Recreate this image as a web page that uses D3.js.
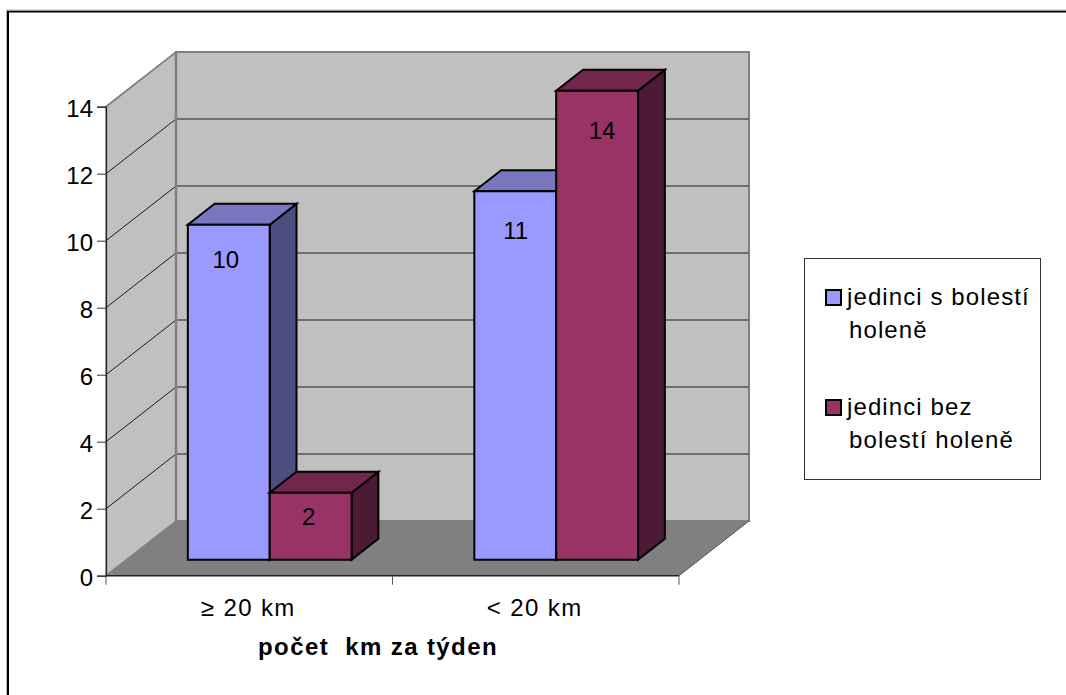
<!DOCTYPE html>
<html>
<head>
<meta charset="utf-8">
<style>
html, body { margin: 0; padding: 0; background: #fff; }
svg { display: block; font-family: "Liberation Sans", Arial, sans-serif; }
</style>
<script src="https://cdn.jsdelivr.net/npm/d3@7/dist/d3.min.js"></script>
</head>
<body>
<svg id="chart" width="1066" height="695"></svg>
<script>
const categories = ["≥ 20 km", "< 20 km"];
const seriesNames = ["jedinci s bolestí holeně", "jedinci bez bolestí holeně"];
const withPain = [10, 11];
const withoutPain = [2, 14];
const yTicks = [0, 2, 4, 6, 8, 10, 12, 14];
const axisTitle = "počet  km za týden";
const legendLines = [["jedinci s bolestí", "holeně"], ["jedinci bez", "bolestí holeně"]];
const seriesColors = ["#9999ff", "#993366"];
const topColors = ["#7777c0", "#73264d"];
const sideColors = ["#4d4d80", "#4d1a33"];

const FONT_SIZE = 24;
const svg = d3.select("#chart");

// Front plane of the plot box
const y = d3.scaleLinear().domain([0, 14]).range([575.7, 106.7]);
const x0 = d3.scaleBand().domain(categories).range([106, 679]);
const x1 = d3.scaleBand().domain([0, 1]).range([0, x0.bandwidth()]).paddingOuter(0.75).paddingInner(0);
// Oblique depth: z=0 is the front plane, z=1 the back wall
const dx = d3.scaleLinear().domain([0, 1]).range([0, 70]);
const dy = d3.scaleLinear().domain([0, 1]).range([0, -54.7]);
const px = (x, z) => x + dx(z);
const py = (v, z) => y(v) + dy(z);
const poly = pts => pts.map(p => p.join(",")).join(" ");
const P = (x, v, z) => [px(x, z), py(v, z)];

// Chart frame: only its top and left edges fall inside the page
const frame = svg.append("g");
frame.append("path").attr("d", "M8,695V11.5H1066").attr("fill", "none").attr("stroke", "#000").attr("stroke-width", 2);
frame.append("path").attr("d", "M6.5,695V10H1066").attr("fill", "none").attr("stroke", "#bbb").attr("stroke-width", 1);

const [xL, xR] = x0.range();

// Walls and floor
svg.append("polygon").attr("points", poly([P(xL, 0, 1), P(xR, 0, 1), P(xR, 14, 1), P(xL, 14, 1)]))
  .attr("fill", "#c0c0c0").attr("stroke", "#808080").attr("stroke-width", 2);
svg.append("polygon").attr("points", poly([P(xL, 0, 0), P(xL, 0, 1), P(xL, 14, 1), P(xL, 14, 0)]))
  .attr("fill", "#c0c0c0").attr("stroke", "#808080").attr("stroke-width", 1.5);
svg.append("polygon").attr("points", poly([P(xL, 0, 0), P(xR, 0, 0), P(xR, 0, 1), P(xL, 0, 1)]))
  .attr("fill", "#808080");
// Right edge bordering the floor
svg.append("line").attr("x1", px(xR, 0)).attr("y1", py(0, 0)).attr("x2", px(xR, 1)).attr("y2", py(0, 1))
  .attr("stroke", "#555").attr("stroke-width", 1);

// Gridlines across both walls
const gridTicks = yTicks.filter(t => t > 0);
svg.append("g").selectAll("line.side").data(gridTicks).join("line")
  .attr("x1", px(xL, 0)).attr("y1", d => py(d, 0)).attr("x2", px(xL, 1)).attr("y2", d => py(d, 1))
  .attr("stroke", d => d === 14 ? "#808080" : "#1a1a1a").attr("stroke-width", d => d === 14 ? 1.5 : 1);
svg.append("g").selectAll("line.back").data(gridTicks.filter(t => t < 14)).join("line")
  .attr("x1", px(xL, 1)).attr("y1", d => py(d, 1)).attr("x2", px(xR, 1)).attr("y2", d => py(d, 1))
  .attr("stroke", "#555").attr("stroke-width", 1.4);
svg.append("line").attr("x1", px(xL, 1)).attr("y1", py(0, 1)).attr("x2", px(xL, 1)).attr("y2", py(14, 1))
  .attr("stroke", "#808080").attr("stroke-width", 2.5);

// Y axis
const yAxis = d3.axisLeft(y).tickValues(yTicks).tickSize(9).tickPadding(4);
const gy = svg.append("g").attr("transform", `translate(${xL},0)`).call(yAxis);
gy.select(".domain").attr("stroke", "#222").attr("stroke-width", 1.2);
gy.selectAll(".tick line").attr("stroke", "#333");
gy.selectAll("text").attr("font-size", FONT_SIZE).attr("font-family", "Liberation Sans").attr("fill", "#000").attr("dy", "0.42em");

// X axis
const xAxis = d3.axisBottom(x0).tickSize(0).tickPadding(23);
const gx = svg.append("g").attr("transform", `translate(0,${y(0)})`).call(xAxis);
gx.select(".domain").attr("stroke", "#222").attr("stroke-width", 1.5).attr("d", `M${xL},0H${xR}`);
gx.selectAll("text").attr("font-size", FONT_SIZE).attr("font-family", "Liberation Sans").attr("fill", "#000")
  .attr("letter-spacing", 1.4).attr("dx", -1);
svg.append("g").selectAll("line").data([xL, xL + x0.step(), xR]).join("line")
  .attr("x1", d => d).attr("x2", d => d).attr("y1", y(0)).attr("y2", y(0) + 9)
  .attr("stroke", "#555");

// Bars as oblique boxes
const zFront = 0.292, zBack = 0.675;
const barWidth = x1.bandwidth();
const rows = categories.flatMap((c, i) => [
  { c, s: 0, v: withPain[i] },
  { c, s: 1, v: withoutPain[i] }
]);
// Value label placement, relative to the centre and top of each bar's front face
const labelNudge = [[-3, 43], [-2, 32], [0.5, 48], [5, 48]];
const bars = svg.append("g").selectAll("g").data(rows).join("g");
bars.each(function (d, i) {
  const g = d3.select(this);
  const l = x0(d.c) + x1(d.s), r = l + barWidth;
  const style = sel => sel.attr("stroke", "#000").attr("stroke-width", 2).attr("stroke-linejoin", "miter");
  g.append("polygon").attr("points", poly([P(r, 0, zFront), P(r, 0, zBack), P(r, d.v, zBack), P(r, d.v, zFront)]))
    .attr("fill", sideColors[d.s]).call(style);
  g.append("polygon").attr("points", poly([P(l, d.v, zFront), P(r, d.v, zFront), P(r, d.v, zBack), P(l, d.v, zBack)]))
    .attr("fill", topColors[d.s]).call(style);
  g.append("polygon").attr("points", poly([P(l, 0, zFront), P(r, 0, zFront), P(r, d.v, zFront), P(l, d.v, zFront)]))
    .attr("fill", seriesColors[d.s]).call(style);
  g.append("text").attr("x", px(l + barWidth / 2, zFront) + labelNudge[i][0]).attr("y", py(d.v, zFront) + labelNudge[i][1])
    .attr("text-anchor", "middle").attr("font-size", FONT_SIZE).attr("fill", "#000").text(d.v);
});

// Axis title
svg.append("text").attr("x", 378).attr("y", 655).attr("text-anchor", "middle")
  .attr("font-size", FONT_SIZE).attr("font-weight", "bold").attr("fill", "#000").attr("letter-spacing", 1.4)
  .attr("xml:space", "preserve").style("white-space", "pre").text(axisTitle);

// Legend
svg.append("rect").attr("x", 804.5).attr("y", 258.5).attr("width", 236).attr("height", 221)
  .attr("fill", "#fff").attr("stroke", "#333").attr("stroke-width", 1);
const legendBase = [305, 415];
const legend = svg.append("g").selectAll("g").data(seriesNames).join("g");
legend.each(function (name, i) {
  const g = d3.select(this);
  g.append("rect").attr("x", 826).attr("y", legendBase[i] - 15).attr("width", 15).attr("height", 15)
    .attr("fill", seriesColors[i]).attr("stroke", "#000").attr("stroke-width", 2);
  legendLines[i].forEach((line, k) => {
    g.append("text").attr("x", k === 0 ? 847 : 849).attr("y", legendBase[i] + k * 33)
      .attr("font-size", FONT_SIZE).attr("letter-spacing", 1.1).attr("fill", "#000").text(line);
  });
});
</script>
</body>
</html>
